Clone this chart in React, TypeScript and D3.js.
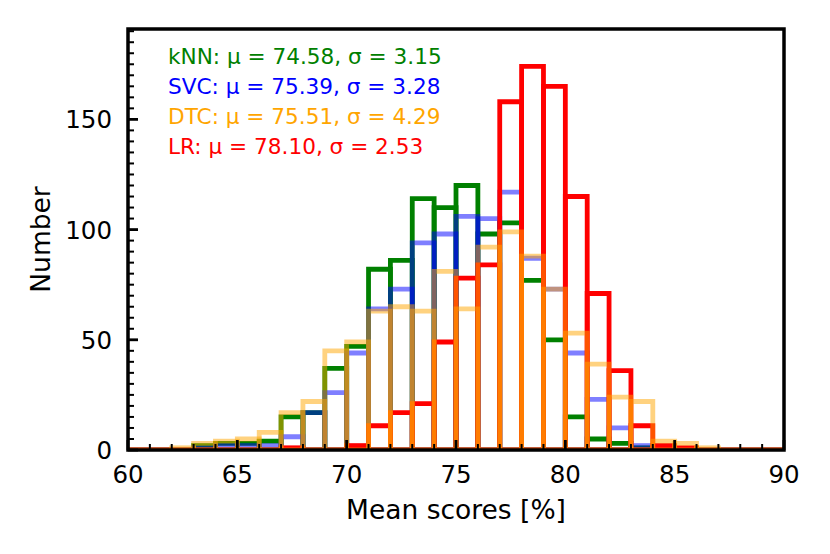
import * as d3 from "d3";

// histogram counts per 1 %-wide bin, first bin starts at 60
const binStart = 60;
const knn = [0, 0, 0, 2, 3, 3, 4, 15, 17, 37, 47, 82, 86, 114, 110, 120, 98, 103, 77, 50, 15, 5, 3, 1, 0, 0, 0, 0, 0, 0];
const svc = [0, 0, 0, 1, 2, 2, 2, 6, 17, 26, 44, 64, 73, 94, 98, 106, 105, 117, 87, 73, 44, 23, 10, 2, 0, 0, 0, 0, 0, 0];
const lr = [0, 0, 0, 0, 0, 0, 0, 1, 0, 0, 2, 11, 17, 21, 49, 78, 84, 158, 174, 165, 115, 71, 36, 11, 2, 1, 0, 0, 0, 0];
const dtc = [0, 0, 1, 3, 4, 5, 8, 17, 22, 45, 49, 63, 65, 63, 81, 64, 92, 99, 88, 73, 53, 39, 24, 22, 4, 3, 1, 0, 0, 0];

const legendLines = [
  { text: "kNN: μ = 74.58, σ = 3.15", color: "green" },
  { text: "SVC: μ = 75.39, σ = 3.28", color: "blue" },
  { text: "DTC: μ = 75.51, σ = 4.29", color: "orange" },
  { text: "LR: μ = 78.10, σ = 2.53", color: "red" },
];

// drawing order seen in the picture: DTC sits on top of LR
const series = [
  { values: knn, color: "green", alpha: 1 },
  { values: svc, color: "blue", alpha: 0.5 },
  { values: lr, color: "red", alpha: 1 },
  { values: dtc, color: "orange", alpha: 0.5 },
];

const xTicks = [60, 65, 70, 75, 80, 85, 90];
const yTicks = [0, 50, 100, 150];

const W = 830;
const H = 554;
const left = 128;
const right = 784;
const top = 29;
const bottom = 450;
const FONT = "DejaVu Sans";

export default function App() {
  const x = d3.scaleLinear().domain([60, 90]).range([left, right]);
  const y = d3.scaleLinear().domain([0, 191]).range([bottom, top]);

  const xMinor = d3.range(60, 91, 1).filter((v) => v % 5 !== 0);
  const yMinor = d3.range(0, 191, 5).filter((v) => v % 50 !== 0);

  const barPath = (i: number, v: number) => {
    const x0 = x(binStart + i);
    const x1 = x(binStart + i + 1);
    return `M${x0},${y(0)}V${y(v)}H${x1}V${y(0)}Z`;
  };

  return (
    <svg width={W} height={H} style={{ position: "absolute", left: 0, top: 0 }} fontFamily={FONT}>
      <rect width={W} height={H} fill="white" />
      <defs>
        <clipPath id="plot">
          <rect x={left} y={top} width={right - left} height={bottom - top} />
        </clipPath>
      </defs>

      <g clipPath="url(#plot)">
        {series.map((s, si) => (
          <g key={si} fill="none" stroke={s.color} strokeOpacity={s.alpha} strokeWidth={4.8}>
            {s.values.map((v, i) => (
              <path key={i} d={barPath(i, v)} />
            ))}
          </g>
        ))}
      </g>

      {/* ticks, pointing inward */}
      <g stroke="black">
        {xTicks.map((t) => (
          <line key={t} x1={x(t)} x2={x(t)} y1={bottom} y2={bottom - 10} strokeWidth={2.8} />
        ))}
        {xMinor.map((t) => (
          <line key={t} x1={x(t)} x2={x(t)} y1={bottom} y2={bottom - 6} strokeWidth={2} />
        ))}
        {yTicks.map((t) => (
          <line key={t} x1={left} x2={left + 10} y1={y(t)} y2={y(t)} strokeWidth={2.8} />
        ))}
        {yMinor.map((t) => (
          <line key={t} x1={left} x2={left + 6} y1={y(t)} y2={y(t)} strokeWidth={2} />
        ))}
      </g>

      <rect
        x={left}
        y={top}
        width={right - left}
        height={bottom - top}
        fill="none"
        stroke="black"
        strokeWidth={3.5}
      />

      <g fontSize={24.5} fill="black">
        {xTicks.map((t) => (
          <text key={t} x={x(t)} y={bottom + 33} textAnchor="middle">
            {t}
          </text>
        ))}
        {yTicks.map((t) => (
          <text key={t} x={left - 16} y={y(t) + 9} textAnchor="end">
            {t}
          </text>
        ))}
      </g>

      <text x={(left + right) / 2} y={519} textAnchor="middle" fontSize={26.5}>
        Mean scores [%]
      </text>
      <text transform={`translate(50, ${(top + bottom) / 2}) rotate(-90)`} textAnchor="middle" fontSize={26.5}>
        Number
      </text>

      <g fontSize={21.6}>
        {legendLines.map((l, i) => (
          <text key={i} x={168} y={64 + i * 30} fill={l.color}>
            {l.text}
          </text>
        ))}
      </g>
    </svg>
  );
}
